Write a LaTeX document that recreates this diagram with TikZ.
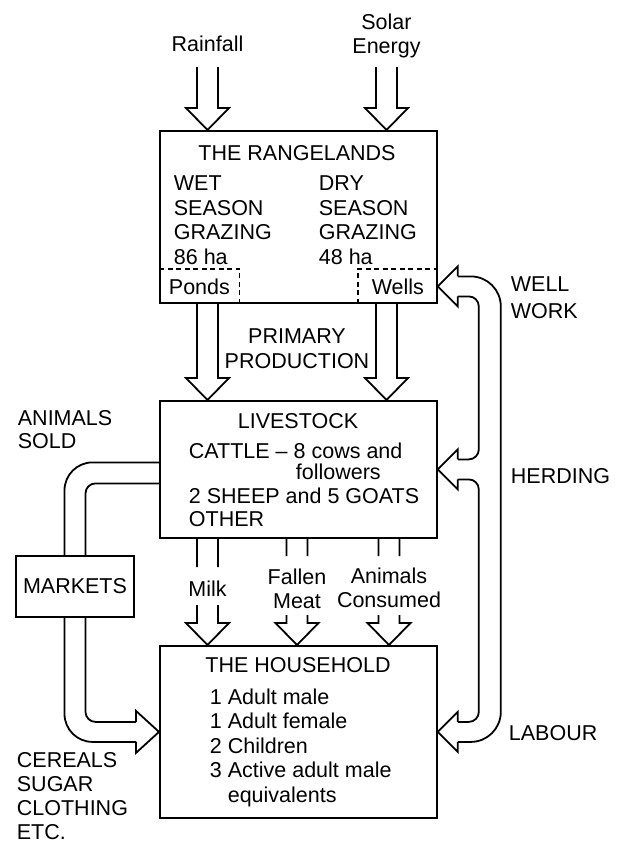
\documentclass[tikz,border=0pt]{standalone}
\usepackage{fontspec}
\setmainfont{Liberation Sans}
\usetikzlibrary{calc}

% hollow arrow pointing down: tip, length, gap top, gap bottom (measured up from the tip)
\newcommand{\hollowdown}[4]{\draw[shift={#1}] (-10.5,-#2) -- (-10.5,-#3) (-10.5,-#4) -- (-10.5,-22) -- (-21.5,-22) -- (0,0) -- (21.5,-22) -- (10.5,-22) -- (10.5,-#4) (10.5,-#3) -- (10.5,-#2);}
\newcommand{\headleft}[1]{\draw[shift={#1}] (20,-10) -- (20,-20) -- (0,0) -- (20,20) -- (20,10);}
\newcommand{\headright}[1]{\draw[shift={#1}] (-23,-10) -- (-23,-21) -- (0,0) -- (-23,21) -- (-23,10);}

\begin{document}
\begin{tikzpicture}[x=1pt,y=-1pt,line width=1.8pt,
  font=\fontsize{21.5}{24.5}\selectfont,
  box/.style={draw,anchor=north west,inner sep=0},
  txt/.style={inner sep=0,align=left,anchor=north west},
  mid/.style={inner sep=0,align=center,anchor=north},
  dashline/.style={line width=1.2pt,dash pattern=on 5pt off 3.5pt}]
\useasboundingbox (0,0) rectangle (618,846);

% the rangelands
\node[mid] (rain) at (207.5,35) {Rainfall};
\node[mid] (solar) at (386.5,13) {Solar\\Energy};
\node[box,minimum width=277,minimum height=172] (range) at (159,130) {};
\node[mid] (rangetitle) at (297,145) {THE RANGELANDS};
\node[txt] (wet) at (173,175) {WET\\SEASON\\GRAZING\\86 ha};
\node[txt] (dry) at (318,175) {DRY\\SEASON\\GRAZING\\48 ha};
\node[anchor=south west,minimum width=79,minimum height=33,inner sep=0] (ponds) at (range.south west) {Ponds};
\node[anchor=south east,minimum width=78,minimum height=33,inner sep=0] (wells) at (range.south east) {Wells};
\draw[dashline] (ponds.south east) -- (ponds.north east) -- (ponds.north west);
\draw[dashline] (wells.south west) -- (wells.north west) -- (wells.north east);

% livestock
\node[mid] (prim) at (297,328) {PRIMARY\\PRODUCTION};
\node[box,minimum width=277,minimum height=137] (stock) at (159,400) {};
\node[mid] (stocktitle) at (298,413) {LIVESTOCK};
\node[txt] (cattle) at (188,442) {CATTLE -- 8 cows and};
\node[txt] (follow) at (295,463) {followers};
\node[txt] (sheep) at (188,487) {2 SHEEP and 5 GOATS\\[-1.5pt]OTHER};
\node[txt] (sold) at (17,410) {ANIMALS\\[-1.5pt]SOLD};
\node[draw,minimum width=118,minimum height=61,inner sep=0] (markets) at (75,586.5) {MARKETS};

% household
\node[mid] (milk) at (207.5,580) {Milk};
\node[mid] (meat) at (297,568) {Fallen\\[-0.5pt]Meat};
\node[mid] (eaten) at (389,567) {Animals\\[-0.5pt]Consumed};
\node[box,minimum width=277,minimum height=172] (house) at (159,645) {};
\node[mid] (housetitle) at (298,657) {THE HOUSEHOLD};
\node[txt] (members) at (209,688) {1 Adult male\\1 Adult female\\2 Children\\3 Active adult male\\\phantom{3 }equivalents};
\node[txt] (bought) at (16,752) {CEREALS\\[-0.5pt]SUGAR\\[-0.5pt]CLOTHING\\[-0.5pt]ETC.};
\node[txt] (wellwork) at (510,276) {WELL\\[2.5pt]WORK};
\node[txt] (herding) at (510,468) {HERDING};
\node[txt] (labour) at (508,725) {LABOUR};

% flows down
\hollowdown{(range.north -| rain)}{63}{63}{63}
\hollowdown{(range.north -| solar)}{63}{63}{63}
\hollowdown{(stock.north -| rain)}{98}{98}{98}
\hollowdown{(stock.north -| solar)}{98}{98}{98}
\hollowdown{(house.north -| milk)}{108}{78}{40}
\hollowdown{(house.north -| meat)}{108}{89}{30}
\hollowdown{(house.north -| eaten)}{108}{89}{30}

% labour loop
\headleft{(wells.east)}
\headleft{(stock.east)}
\headleft{(house.east)}
\draw[rounded corners=30] ($(wells.east)+(20,-10)$) -| ($(house.east)+(63,10)$) -- ($(house.east)+(20,10)$);
\draw[rounded corners=10] ($(wells.east)+(20,10)$) -| ($(stock.east)+(41,-10)$) -- ($(stock.east)+(20,-10)$);
\draw[rounded corners=10] ($(stock.east)+(20,10)$) -| ($(house.east)+(41,-10)$) -- ($(house.east)+(20,-10)$);

% market loop
\headright{(house.west)}
\draw[rounded corners=28] ($(stock.west)+(0,-7)$) -| ($(markets.north)+(-10.5,0)$);
\draw[rounded corners=10] ($(stock.west)+(0,14)$) -| ($(markets.north)+(10.5,0)$);
\draw[rounded corners=28] ($(markets.south)+(-10.5,0)$) |- ($(house.west)+(-23,10)$);
\draw[rounded corners=10] ($(markets.south)+(10.5,0)$) |- ($(house.west)+(-23,-10)$);
\end{tikzpicture}
\end{document}
